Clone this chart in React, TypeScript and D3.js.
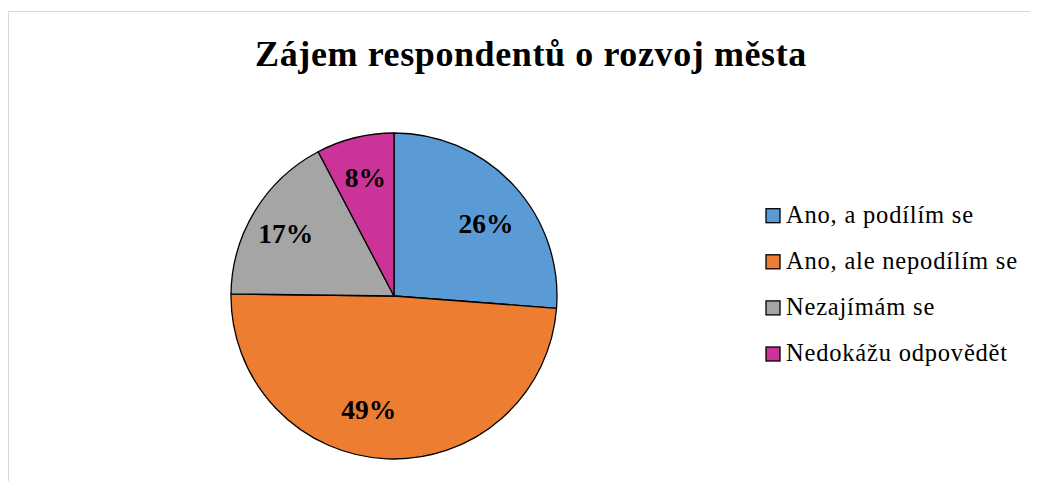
import React from "react";
import * as d3 from "d3";

const categories = ["Ano, a podílím se", "Ano, ale nepodílím se", "Nezajímám se", "Nedokážu odpovědět"];
const values = [26.2, 49.0, 17.1, 7.7];
const colors = ["#5B9BD5", "#ED7D31", "#A5A5A5", "#CC3399"];
const title = "Zájem respondentů o rozvoj města";

// label nudges (layout, px) to mimic best-fit placement
const labelNudge: [number, number][] = [[4, 9], [-20, -6], [-6, 0], [0, -2]];

export default function App() {
  const W = 1038, H = 481;
  const cx = 394 - 8, cy = 296 - 8, R = 163;
  const font = "Liberation Serif";
  const pie = d3.pie<number>().sort(null).value((d) => d).startAngle(0).endAngle(2 * Math.PI);
  const arcs = pie(values);
  const arc = d3.arc<d3.PieArcDatum<number>>().innerRadius(0).outerRadius(R);
  const labelArc = d3.arc<d3.PieArcDatum<number>>().innerRadius(120).outerRadius(120);
  const total = d3.sum(values);
  const legendBase0 = 222.7 - 8, legendStep = 46.1;
  return (
    <svg width={W - 8} height={H - 8} style={{ display: "block" }}>
      <rect x={0.5} y={3.5} width={W + 20} height={H + 20} fill="#fff" stroke="#d9d9d9" strokeWidth={1} />
      <text x={531 - 8} y={66 - 8} textAnchor="middle" fontFamily={font} fontWeight="bold" fontSize={36}
        letterSpacing={0.6} fill="#000">
        {title}
      </text>
      <g transform={`translate(${cx},${cy})`}>
        {arcs.map((a, i) => (
          <path key={i} d={arc(a) || ""} fill={colors[i]} stroke="#000" strokeWidth={1.3} strokeLinejoin="round" />
        ))}
        {arcs.map((a, i) => {
          const [x, y] = labelArc.centroid(a);
          return (
            <text key={"l" + i} x={x + labelNudge[i][0]} y={y + labelNudge[i][1] + 9.3} textAnchor="middle"
              fontFamily={font} fontWeight="bold" fontSize={27.5} fill="#000">
              {d3.format(".0f")((values[i] / total) * 100) + "%"}
            </text>
          );
        })}
      </g>
      {categories.map((c, i) => {
        const y = legendBase0 + i * legendStep;
        return (
          <g key={"lg" + i}>
            <rect x={766 - 8} y={y - 14} width={14} height={14} fill={colors[i]} stroke="#000" strokeWidth={1.3} />
            <text x={786 - 8} y={y} fontFamily={font} fontSize={24.5} letterSpacing={0.8} fill="#000">{c}</text>
          </g>
        );
      })}
    </svg>
  );
}
